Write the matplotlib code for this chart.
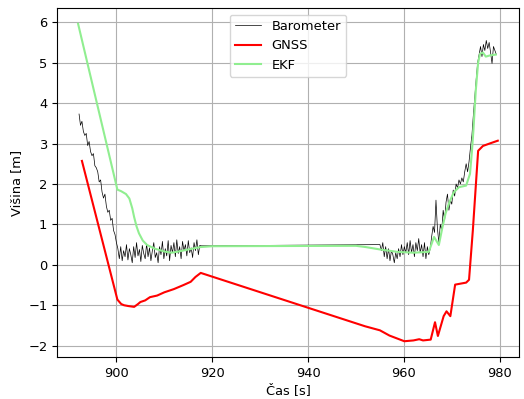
import numpy as np
import matplotlib
matplotlib.use("Agg")
import matplotlib.pyplot as plt

plt.rcParams["font.size"] = 9.4

# --- Barometer samples (two recorded chunks, 0.3 s sampling) ---
baro_dt = 0.3
baro1_t0 = 892.2
baro1_h = [3.73, 3.45, 3.55, 3.30, 3.20, 3.25, 2.95, 3.05, 2.80, 2.70,
           2.75, 2.45, 2.40, 2.30, 2.05, 2.10, 1.80, 1.65, 1.75, 1.45,
           1.30, 1.35, 1.10, 1.15, 0.85, 0.75, 0.55, 0.40,
           0.15, 0.45, 0.10, 0.35, 0.20, 0.50, 0.12, 0.40, 0.25, 0.05,
           0.45, 0.18, 0.55, 0.22, 0.38, 0.08, 0.48, 0.28, 0.15, 0.52,
           0.20, 0.42, 0.10, 0.35, 0.55, 0.18, 0.30, 0.05, 0.45, 0.25,
           0.58, 0.15, 0.40, 0.22, 0.60, 0.10, 0.48, 0.30, 0.55, 0.20,
           0.62, 0.28, 0.45, 0.15, 0.58, 0.35, 0.50, 0.22, 0.60, 0.30,
           0.42, 0.18, 0.55, 0.35, 0.62, 0.25, 0.48, 0.47]
baro2_t0 = 955.0
baro2_h = [0.50, 0.35, 0.55, 0.20, 0.45, 0.15, 0.40, 0.10, 0.35, 0.25,
           0.05, 0.30, 0.15, 0.40, 0.20, 0.50, 0.25, 0.45, 0.30, 0.55,
           0.25, 0.60, 0.30, 0.50, 0.20, 0.55, 0.35, 0.65, 0.30, 0.50,
           0.20, 0.55, 0.15, 0.45, 0.25, 0.40, 0.70, 0.95, 0.80, 1.60,
           0.90, 0.55, 1.00, 0.85, 1.35, 1.10, 1.55, 1.75, 1.35, 1.60,
           1.50, 1.85, 1.70, 2.00, 1.90, 2.10, 2.00, 2.15, 2.05, 2.30,
           2.50, 2.30, 2.55, 2.90, 3.20, 3.70, 4.15, 4.60, 5.00, 5.20,
           5.40, 5.15, 5.45, 5.30, 5.55, 5.35, 5.50, 5.25, 4.98, 5.40,
           5.30, 5.20]

# --- GNSS ---
gnss_t = [892.8, 900.2, 901.0, 901.6, 902.5, 903.7, 904.5, 905.0, 906.0, 907.0,
          908.5, 910.0, 912.0, 914.0, 915.5, 916.5, 917.6, 951.9, 955.0, 957.0,
          960.1, 962.0, 963.2, 964.0, 965.6, 966.5, 967.1, 968.3, 968.9, 969.7,
          970.7, 973.0, 973.6, 974.4, 975.5, 976.5, 977.9, 979.6]
gnss_h = [2.57, -0.86, -0.97, -1.00, -1.02, -1.04, -0.97, -0.92, -0.88, -0.80,
          -0.76, -0.68, -0.60, -0.50, -0.42, -0.30, -0.20, -1.52, -1.62, -1.75,
          -1.89, -1.87, -1.84, -1.87, -1.85, -1.42, -1.76, -1.27, -1.15, -1.27,
          -0.49, -0.44, -0.37, 0.86, 2.82, 2.94, 3.00, 3.07]

# --- EKF ---
ekf_t = [892.0, 900.2, 901.0, 902.0, 902.7, 903.3, 903.7, 904.2, 904.7, 905.5,
         906.4, 908.0, 910.0, 911.5, 913.0, 915.0, 917.6, 920.0, 950.0, 952.0,
         955.0, 958.7, 962.0, 965.2, 966.3, 967.3, 968.0, 968.7, 969.5, 970.4,
         971.5, 973.0, 973.8, 974.2, 974.5, 975.0, 975.5, 975.9, 976.5, 977.1,
         978.0, 979.2]
ekf_h = [5.96, 1.86, 1.82, 1.75, 1.64, 1.40, 1.18, 0.95, 0.78, 0.60,
         0.49, 0.40, 0.33, 0.30, 0.33, 0.38, 0.44, 0.46, 0.47, 0.44,
         0.38, 0.32, 0.30, 0.32, 0.69, 0.49, 0.90, 1.27, 1.55, 1.79,
         1.92, 1.96, 2.25, 2.80, 3.30, 4.30, 5.00, 5.22, 5.25, 5.15,
         5.18, 5.20]

baro_t = np.concatenate([baro1_t0 + baro_dt * np.arange(len(baro1_h)),
                         baro2_t0 + baro_dt * np.arange(len(baro2_h))])
baro_h = np.array(baro1_h + baro2_h)

fig, ax = plt.subplots(figsize=(5.24, 3.99), dpi=100)
fig.subplots_adjust(left=0.109, right=0.99, bottom=0.105, top=0.98)

ax.plot(baro_t, baro_h, color="black", linewidth=0.5, label="Barometer")
ax.plot(gnss_t, gnss_h, color="red", linewidth=1.5, label="GNSS")
ax.plot(ekf_t, ekf_h, color="lightgreen", linewidth=1.5, label="EKF")

ax.set_xlabel("Čas [s]", labelpad=3)
ax.set_ylabel("Višina [m]")
ax.set_xticks([900, 920, 940, 960, 980])
ax.set_yticks([-2, -1, 0, 1, 2, 3, 4, 5, 6])
ax.grid(True)
ax.legend(loc="upper center")

fig.savefig("out.png", dpi=100)
